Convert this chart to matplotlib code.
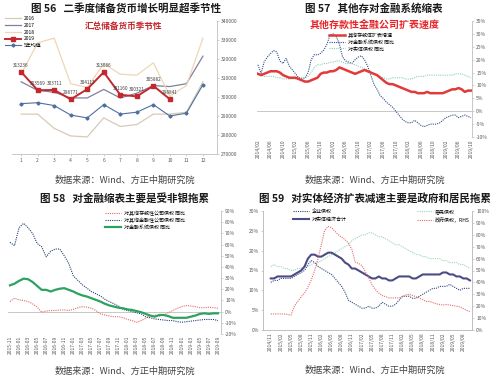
import matplotlib
matplotlib.use("Agg")
import matplotlib.pyplot as plt
from matplotlib.ticker import FuncFormatter

plt.rcParams['font.family'] = ['Noto Sans CJK SC', 'DejaVu Sans']
plt.rcParams['axes.unicode_minus'] = False

# ---------------- 图56 数据 ----------------
months56 = [1, 2, 3, 4, 5, 6, 7, 8, 9, 10, 11, 12]
y2016 = [291000, 291000, 283500, 279500, 279000, 289000, 284500, 285500, 291000, 291000, 292000, 308000]
y2017 = [308000, 303500, 302500, 299500, 299500, 304000, 299500, 302000, 306000, 305500, 307000, 321500]
y2018 = [312000, 328500, 331000, 307000, 305000, 317500, 312000, 311500, 318000, 300500, 306000, 331000]
y2019 = [313236, 303569, 303711, 298771, 304113, 313086, 301160, 300321, 305882, 298841]
avg5 = [296500, 297000, 295500, 290500, 289000, 296000, 291000, 292000, 296000, 290000, 291500, 306500]

# ---------------- 图57 数据 (2014/02-2019/10) ----------------
dates57 = ['2014/02', '2014/06', '2014/10', '2015/02', '2015/06', '2015/10', '2016/02', '2016/06',
           '2016/10', '2017/02', '2017/06', '2017/10', '2018/02', '2018/06', '2018/10', '2019/02',
           '2019/06', '2019/10']
odc_growth = [14.5, 14.0, 14.5, 15.0, 15.5, 15.5, 15.5, 15.0, 14.0, 13.5, 13.0, 13.0,
              13.0, 12.5, 12.0, 11.5, 11.5, 12.0, 12.5, 13.0, 14.5, 15.0, 15.0, 15.5,
              15.5, 16.0, 17.0, 16.5, 16.0, 15.5, 15.0, 14.5, 15.0, 15.5, 16.0, 15.5,
              15.0, 14.5, 14.0, 13.0, 12.0, 11.0, 10.5, 10.5, 10.0, 9.5, 9.0, 8.5,
              8.0, 7.5, 7.5, 7.0, 7.0, 7.0, 7.5, 7.0, 7.0, 7.0, 7.0, 7.0,
              7.5, 8.0, 8.5, 8.5, 9.0, 8.5, 7.5, 8.0, 8.0]
fin_claims57 = [18, 14.7, 19.2, 21, 22.4, 23.5, 23, 19.5, 18.5, 20.5, 17.5, 16,
                14.5, 13, 12.8, 12.8, 15, 20, 22, 21.8, 22.5, 23.7, 26, 29.5,
                30, 29, 26, 21, 19.5, 19, 18.5, 20, 21, 21.5, 20, 17.5,
                14, 10.5, 8.5, 6, 5, 3.5, 2.5, 1.5, 0, -1.5, -3, -4,
                -4.5, -4.5, -3.5, -4.5, -5.5, -6, -5.5, -5, -5, -5, -4.5, -3.5,
                -2.5, -2, -1.5, -1.5, -2.5, -2, -1.5, -2, -2.5]
real_claims57 = [14.5, 14, 13.5, 13.5, 13.5, 13.5, 13, 13, 12.5, 12.5, 12.5, 12.5,
                 12.5, 12.5, 12.5, 13, 13.5, 15, 17, 18, 18, 18.5, 18.5, 19,
                 19, 19.5, 19.5, 19, 18.5, 18.5, 18.5, 18, 17.5, 17, 16.5, 16,
                 15.5, 14.5, 14, 13.5, 13, 12.5, 12.5, 13, 13, 13, 13, 12.5,
                 12.5, 12.5, 13, 13.5, 13.5, 13.5, 14, 14, 14, 14, 14, 14,
                 14, 14, 14, 14.5, 14.5, 14.5, 14, 13.5, 13]

# ---------------- 图58 数据 (2015-11-2019-09) ----------------
dates58 = ['2015-11', '2016-01', '2016-03', '2016-05', '2016-07', '2016-09', '2016-11', '2017-01',
           '2017-03', '2017-05', '2017-07', '2017-09', '2017-11', '2018-01', '2018-03', '2018-05',
           '2018-07', '2018-09', '2018-11', '2019-01', '2019-03', '2019-05', '2019-07', '2019-09']
odc_claims = [9, 12, 10.5, 10, 9, 7, 4, -0.5, 0.5, 1, 1, 1.5,
              1.5, 1, 2, 3.5, 4.5, 4, 3, 1, -2, -3, -4, -4.5,
              -4.5, -5.5, -7, -8, -9.5, -8, -6, -4, -3, -4, -3, -1,
              1, 3, 4.5, 5.5, 5, 4.5, 3.5, 3.5, 4, 3.5, 3]
ofc_claims = [62, 59, 75, 79, 75, 70, 61, 58, 49, 54, 56, 56,
              50, 43, 32, 28, 24, 21, 18, 16, 14, 11, 9, 7,
              5, 2, 1, 0, -1, -2, -4.5, -5.5, -6.5, -7, -7.5, -8,
              -8, -9, -9.5, -9, -8.5, -8, -7.5, -7, -7, -7, -8]
fin_claims58 = [23.5, 25, 27.5, 29.5, 29, 26.5, 23, 19.5, 19.5, 18, 19.5, 20.5,
                21, 19.5, 18, 16, 14.5, 13.5, 12, 10.5, 9, 7, 5.5, 4.5,
                3.5, 3, 2, 1.5, 0.5, -0.5, -2, -3.5, -4.5, -3, -3, -4,
                -5.5, -5.5, -5.5, -5.5, -4.5, -3.5, -2, -1.5, -2, -1.5, -1.5]

# ---------------- 图59 数据 (2014/11-2019/10) ----------------
dates59 = ['2014/11', '2015/02', '2015/05', '2015/08', '2015/11', '2016/02', '2016/05', '2016/08',
           '2016/11', '2017/02', '2017/05', '2017/08', '2017/11', '2018/02', '2018/05', '2018/08',
           '2018/11', '2019/02', '2019/05', '2019/08']
corp = [12, 12.5, 12.5, 13, 13, 13, 13, 13.5, 14, 14.5, 15, 16.5,
        17.5, 17, 16, 15.5, 15, 14.5, 14, 13, 12, 11, 9.5, 7.5,
        7, 6.5, 6, 5.5, 5.5, 6, 5.5, 5.5, 6, 7, 6.5, 6,
        6, 6.5, 7.5, 8.5, 8.5, 8.5, 8, 8, 8.5, 9, 9.5, 10,
        10.5, 10.5, 11, 11, 11, 11.5, 11, 10.5, 10, 10.5, 10.5, 10.5]
household = [16, 16.5, 16, 16, 15.5, 15.5, 15, 15, 15.5, 15.5, 16, 16,
             16.5, 17, 17, 17.5, 18, 18.5, 19, 19.5, 20, 20.5, 21, 21.5,
             22.5, 23, 23.5, 24, 24, 24.5, 24.5, 24, 23.5, 23.5, 23, 22.5,
             22, 21.5, 21.5, 21, 20.5, 20, 19.5, 19, 19, 18.5, 18.5, 18,
             18, 18, 18, 17.5, 17.5, 17, 17, 17, 16.5, 16.5, 16, 15.5]
total = [13, 13, 13.5, 13.5, 13.5, 13.5, 13.5, 14, 14.5, 15, 16, 18,
         19, 19, 18.5, 18.5, 19, 19.5, 19.5, 19, 18.5, 18, 17, 16.5,
         15.5, 15.5, 15, 14.5, 14, 13.5, 13, 13, 13.5, 13, 13, 12.5,
         12.5, 13, 13.5, 13.5, 13.5, 13.5, 13, 13, 13.5, 14, 14, 14,
         14, 14, 14, 14.5, 14.5, 14, 14, 13.5, 13.5, 13, 13, 12.5]
gov = [13.5, 13.5, 13.5, 13.5, 13.5, 13, 12.5, 20, 24, 28, 31, 36,
       42, 50, 60, 72, 84, 87, 86, 83, 80, 78, 76, 73,
       68, 57, 56, 54, 49, 44, 38, 34, 31, 29, 28, 27,
       27, 27, 27, 28, 29.5, 30, 29, 28, 27, 25.5, 24, 24,
       23, 22, 21.5, 21, 21.5, 21, 20.5, 20, 19.5, 18, 16.5, 15.5]

GRID = '#bfbfbf'
TXT = '#595959'
W, H = 500, 380


def box(x0, y0, x1, y1):
    # pixel box -> figure fraction [left, bottom, width, height]
    return [x0 / W, 1 - y1 / H, (x1 - x0) / W, (y1 - y0) / H]


def style(ax, left=False, right=True, bottom=True):
    for s in ax.spines.values():
        s.set_color(GRID)
        s.set_linewidth(0.6)
    ax.spines['top'].set_visible(False)
    ax.spines['left'].set_visible(left)
    ax.spines['right'].set_visible(right)
    ax.spines['bottom'].set_visible(bottom)
    ax.tick_params(labelsize=3.6, colors=TXT, length=1.5, width=0.5, pad=1.5)
    ax.tick_params(axis='both', color=GRID)


def title(x, y, s):
    fig.text(x / W, 1 - y / H, s, ha='center', va='center', fontsize=7.6,
             fontweight='bold', color='#1a1a1a')


def source(x, y):
    fig.text(x / W, 1 - y / H, '数据来源：Wind、方正中期研究院', ha='center',
             va='center', fontsize=6.6, color='#444444')


pct = FuncFormatter(lambda v, p: f'{v:.0f}%')

fig = plt.figure(figsize=(5, 3.8), dpi=100)

# ================= 图56 =================
ax1 = fig.add_axes(box(12, 21, 217, 154))
style(ax1)
ax1.plot(months56, y2016, color='#d7cab6', lw=0.9, label='2016')
ax1.plot(months56, y2017, color='#80809e', lw=0.9, label='2017')
ax1.plot(months56, y2018, color='#efd6b8', lw=0.9, label='2018')
ax1.plot(months56[:len(y2019)], y2019, color='#c3282e', lw=1.4, marker='s',
         ms=2.2, label='2019')
ax1.plot(months56, avg5, color='#4f6fa0', lw=0.8, marker='D', ms=1.6, label='5年均值')
for m, v in zip(months56, y2019):
    ax1.annotate(str(v), (m, v), xytext=(0, 3), textcoords='offset points',
                 ha='center', va='bottom', fontsize=3.4, color='#404040')
ax1.set_xlim(0.45, 12.85)
ax1.set_ylim(270000, 340000)
ax1.set_xticks(months56)
ax1.set_yticks(range(270000, 340001, 10000))
ax1.yaxis.tick_right()
ax1.legend(loc='upper left', bbox_to_anchor=(3 / W, 1 - 14 / H), bbox_transform=fig.transFigure,
           fontsize=3.6, frameon=False, handlelength=3.2, labelspacing=0.35,
           borderaxespad=0, handletextpad=0.5)
fig.text(124 / W, 1 - 26 / H, '汇总储备货币季节性', ha='center', va='center',
         fontsize=6.2, fontweight='bold', color='#c3282e', style='italic')
title(126, 8, '图 56   二季度储备货币增长明显超季节性')
source(125, 180)

# ================= 图57 =================
x57 = list(range(len(odc_growth)))
ax2 = fig.add_axes(box(257, 21, 472, 137))
style(ax2, bottom=False)
ax2.axhline(0, color=GRID, lw=0.6)
ax2.plot(x57, fin_claims57, color='#2d4f86', lw=0.8, ls=(0, (1, 1)), label='对金融系统债权 同比')
ax2.plot(x57, real_claims57, color='#8fd0b6', lw=0.8, ls=(0, (1, 1)), label='对实体债权 同比')
ax2.plot(x57, odc_growth, color='#e03a3a', lw=1.8, label='其他存款体扩表增速', zorder=3)
ax2.set_xlim(-0.3, 68.3)
ax2.set_ylim(-10, 35)
ax2.set_yticks(range(-10, 36, 5))
ax2.yaxis.set_major_formatter(pct)
ax2.yaxis.tick_right()
ax2.set_xticks(range(0, len(x57), 4))
ax2.set_xticklabels(dates57, rotation=90)
ax2.tick_params(axis='x', length=0)
h, l = ax2.get_legend_handles_labels()
ax2.legend([h[2], h[0], h[1]], [l[2], l[0], l[1]], loc='upper left',
           bbox_to_anchor=(327 / W, 1 - 31 / H), bbox_transform=fig.transFigure,
           fontsize=3.6, frameon=False, handlelength=3.2, labelspacing=0.3,
           borderaxespad=0, handletextpad=0.5)
fig.text(375 / W, 1 - 25 / H, '其他存款性金融公司扩表速度', ha='center', va='center',
         fontsize=7.2, fontweight='bold', color='#e8262a', style='italic')
title(374, 8, '图 57   其他存对金融系统缩表')
source(375, 180)

# ================= 图58 =================
x58 = list(range(len(fin_claims58)))
ax3 = fig.add_axes(box(8, 211, 221, 334))
style(ax3, bottom=False)
ax3.axhline(0, color=GRID, lw=0.6)
ax3.plot(x58, odc_claims, color='#e06b6b', lw=0.8, ls=(0, (1, 1)), label='对其他存款性公司债权 同比')
ax3.plot(x58, ofc_claims, color='#27406f', lw=0.8, ls=(0, (1, 1)), label='对其他金融性公司债权 同比')
ax3.plot(x58, fin_claims58, color='#2ca25f', lw=1.6, label='对金融系统债权 同比')
ax3.set_xlim(-0.44, 46.66)
ax3.set_ylim(-20, 90)
ax3.set_yticks(range(-20, 91, 10))
ax3.yaxis.set_major_formatter(pct)
ax3.yaxis.tick_right()
ax3.set_xticks(range(0, len(x58), 2))
ax3.set_xticklabels(dates58, rotation=90)
ax3.tick_params(axis='x', length=0)
ax3.legend(loc='upper left', bbox_to_anchor=(103 / W, 1 - 209 / H), bbox_transform=fig.transFigure,
           fontsize=3.6, frameon=False, handlelength=3.2, labelspacing=0.3,
           borderaxespad=0, handletextpad=0.5)
title(125, 198, '图 58   对金融缩表主要是受非银拖累')
source(125, 371)

# ================= 图59 =================
x59 = list(range(len(total)))
ax4 = fig.add_axes(box(263, 211, 472, 330))
style(ax4, left=True, right=True)
ax4.plot(x59, corp, color='#2e4a7d', lw=0.8, ls=(0, (1, 1)), label='企业债权')
ax4.plot(x59, household, color='#9ad6bc', lw=0.8, ls=(0, (1, 1)), label='居民债权')
ax4.plot(x59, total, color='#4b4b86', lw=1.5, label='对实体经济合计')
ax4.set_xlim(-2.3, 59.6)
ax4.set_ylim(0, 30)
ax4.set_yticks(range(0, 31, 5))
ax4.yaxis.set_major_formatter(pct)
ax4.set_xticks(range(0, len(x59) - 2, 3))
ax4.set_xticklabels(dates59, rotation=90)
ax4.tick_params(axis='x', length=0)
ax4r = ax4.twinx()
style(ax4r, left=True, right=True)
ax4r.plot(x59, gov, color='#e46d6d', lw=0.8, ls=(0, (1, 1)), label='政府债权，RHS')
ax4r.set_ylim(0, 100)
ax4r.set_yticks(range(0, 101, 10))
ax4r.yaxis.set_major_formatter(pct)
h1, l1 = ax4.get_legend_handles_labels()
h2, l2 = ax4r.get_legend_handles_labels()
ax4r.legend([h1[0], h1[2], h1[1], h2[0]], [l1[0], l1[2], l1[1], l2[0]], ncol=2,
            loc='upper left', bbox_to_anchor=(291 / W, 1 - 207 / H), bbox_transform=fig.transFigure,
            fontsize=3.6, frameon=False, handlelength=3.2, labelspacing=0.5,
            borderaxespad=0, handletextpad=0.5, columnspacing=14)
title(375, 198, '图 59   对实体经济扩表减速主要是政府和居民拖累')
source(375, 370)

fig.savefig('out.png', dpi=100, facecolor='white')
